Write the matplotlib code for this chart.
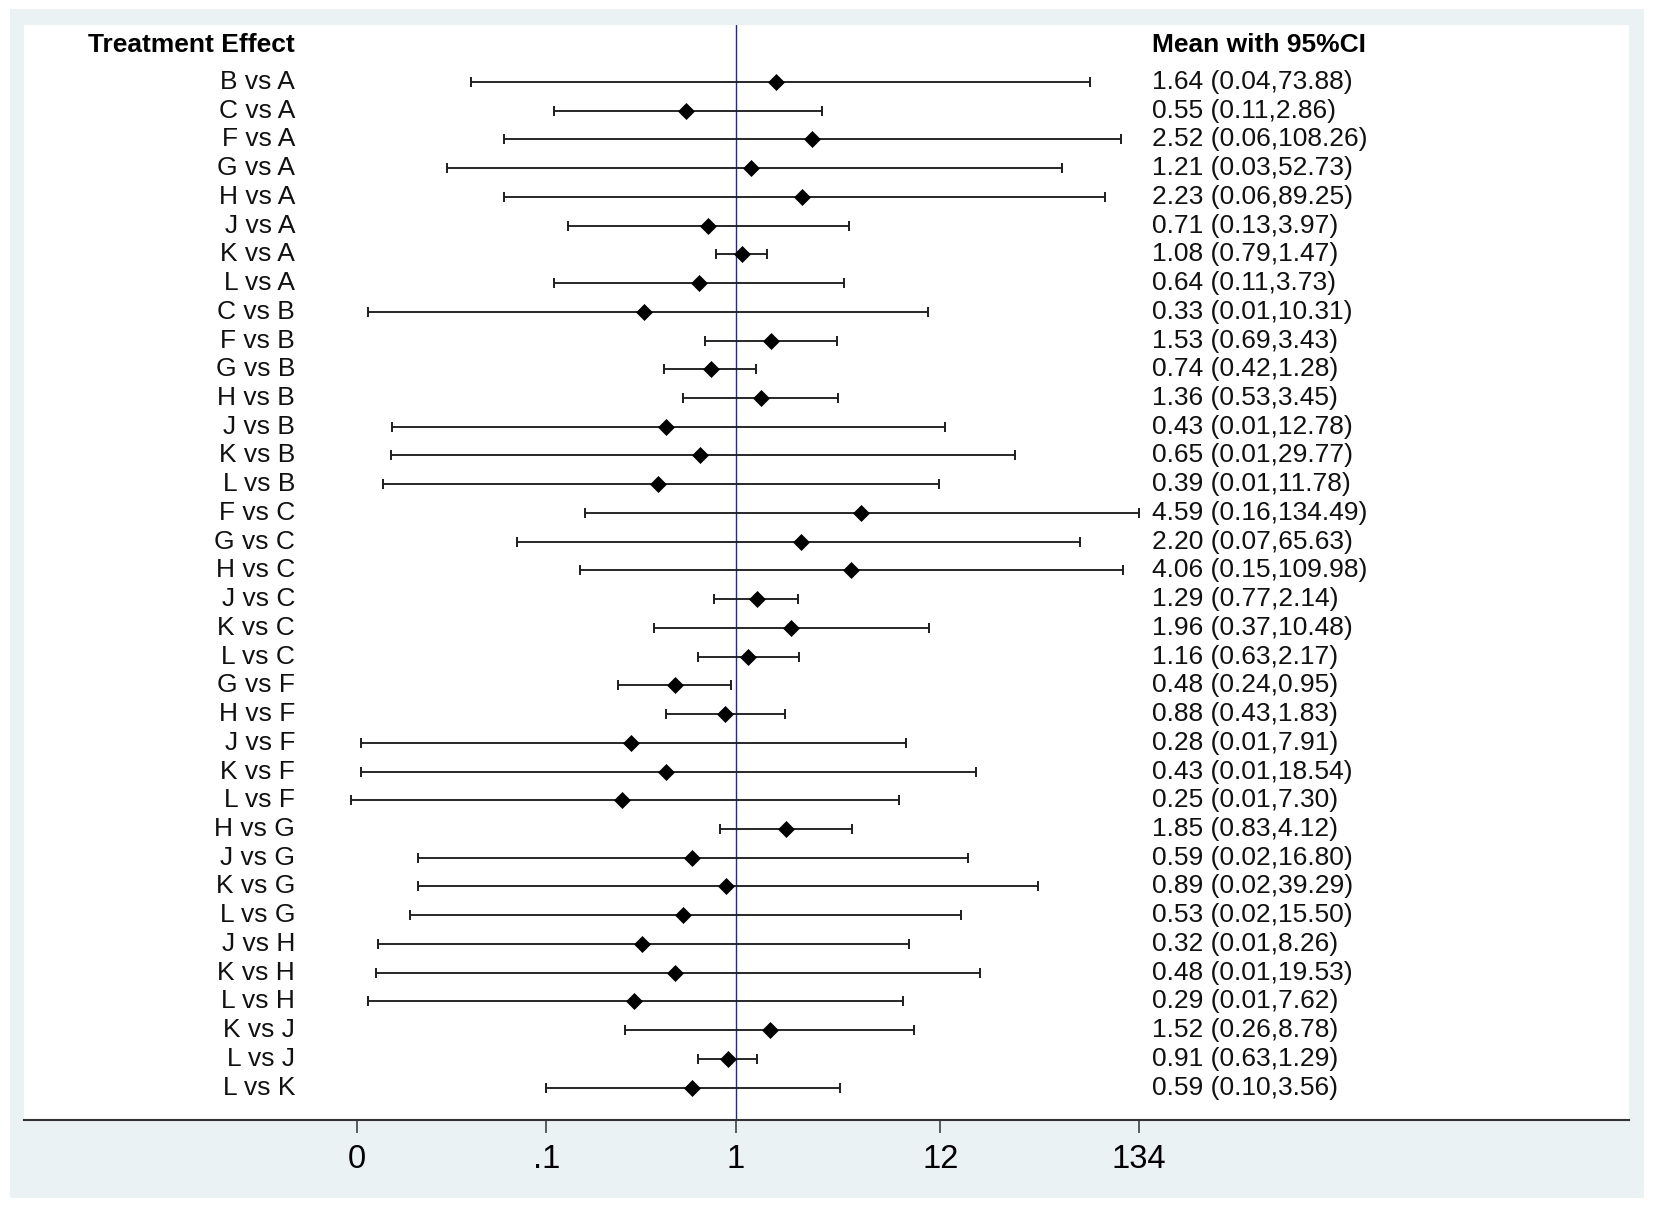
import matplotlib
matplotlib.use('Agg')
import matplotlib.pyplot as plt
import matplotlib.transforms as mtransforms
from matplotlib.ticker import NullLocator, FixedLocator, FixedFormatter
import numpy as np

plt.rcParams['font.family'] = ['Liberation Sans', 'DejaVu Sans']

# ---------------- data ----------------
comparisons = [
    "B vs A", "C vs A", "F vs A", "G vs A", "H vs A", "J vs A", "K vs A", "L vs A",
    "C vs B", "F vs B", "G vs B", "H vs B", "J vs B", "K vs B", "L vs B",
    "F vs C", "G vs C", "H vs C", "J vs C", "K vs C", "L vs C",
    "G vs F", "H vs F", "J vs F", "K vs F", "L vs F",
    "H vs G", "J vs G", "K vs G", "L vs G",
    "J vs H", "K vs H", "L vs H",
    "K vs J", "L vs J",
    "L vs K",
]
mean = [1.64, 0.55, 2.52, 1.21, 2.23, 0.71, 1.08, 0.64,
        0.33, 1.53, 0.74, 1.36, 0.43, 0.65, 0.39,
        4.59, 2.20, 4.06, 1.29, 1.96, 1.16,
        0.48, 0.88, 0.28, 0.43, 0.25,
        1.85, 0.59, 0.89, 0.53,
        0.32, 0.48, 0.29,
        1.52, 0.91,
        0.59]
lower_shown = [0.04, 0.11, 0.06, 0.03, 0.06, 0.13, 0.79, 0.11,
               0.01, 0.69, 0.42, 0.53, 0.01, 0.01, 0.01,
               0.16, 0.07, 0.15, 0.77, 0.37, 0.63,
               0.24, 0.43, 0.01, 0.01, 0.01,
               0.83, 0.02, 0.02, 0.02,
               0.01, 0.01, 0.01,
               0.26, 0.63,
               0.10]
# lower limits as drawn (unrounded values)
lower_plot = [0.04, 0.11, 0.06, 0.03, 0.06, 0.13, 0.79, 0.11,
              0.0115, 0.69, 0.42, 0.53, 0.0154, 0.0151, 0.0137,
              0.16, 0.07, 0.15, 0.77, 0.37, 0.63,
              0.24, 0.43, 0.0105, 0.0105, 0.0093,
              0.83, 0.021, 0.021, 0.019,
              0.013, 0.0127, 0.0115,
              0.26, 0.63,
              0.10]
upper = [73.88, 2.86, 108.26, 52.73, 89.25, 3.97, 1.47, 3.73,
         10.31, 3.43, 1.28, 3.45, 12.78, 29.77, 11.78,
         134.49, 65.63, 109.98, 2.14, 10.48, 2.17,
         0.95, 1.83, 7.91, 18.54, 7.30,
         4.12, 16.80, 39.29, 15.50,
         8.26, 19.53, 7.62,
         8.78, 1.29,
         3.56]
tick_values = [0.01, 0.1, 1, 12, 134]
tick_labels = ['0', '.1', '1', '12', '134']
header_left = "Treatment Effect"
header_right = "Mean with 95%CI"

# ---------------- layout ----------------
W, H = 1654, 1205
fig = plt.figure(figsize=(W / 100, H / 100), dpi=100)
fig.patch.set_facecolor('white')

bg = fig.add_axes([10 / W, 7 / H, 1634 / W, 1189 / H], zorder=-5)
bg.set_facecolor('#EAF2F3')
bg.set_xticks([])
bg.set_yticks([])
for s in bg.spines.values():
    s.set_visible(False)

ax_l, ax_r, ax_t, ax_b = 24, 1629, 25, 1120
ax = fig.add_axes([ax_l / W, (H - ax_b) / H, (ax_r - ax_l) / W, (ax_b - ax_t) / H], zorder=1)
ax.set_facecolor('white')

x_one = 735.7
decade = 189.5
ax.set_xscale('log')
ax.set_xlim(10 ** ((ax_l - x_one) / decade), 10 ** ((ax_r - x_one) / decade))

row0, drow = 82.0, 28.73
ax.set_ylim((ax_b - row0) / drow, (ax_t - row0) / drow)

n = len(comparisons)
ypos = np.arange(n)
m = np.array(mean)
lo = np.array(lower_plot)
hi = np.array(upper)

ax.axvline(1, color='#2323a8', lw=1.0, zorder=1)

ax.errorbar(m, ypos, xerr=[m - lo, hi - m], fmt='none', ecolor='#1e1e1e',
            elinewidth=1.35, capsize=3.8, capthick=1.4, zorder=2)
ax.plot(m, ypos, linestyle='none', marker='D', ms=8.3, color='black',
        markeredgewidth=0.5, zorder=3)

trans = mtransforms.blended_transform_factory(ax.transAxes, ax.transData)
xl = (295 - ax_l) / (ax_r - ax_l)
xr = (1152 - ax_l) / (ax_r - ax_l)
for i in range(n):
    ax.text(xl, i, comparisons[i], transform=trans, ha='right', va='center',
            fontsize=19, color='#111111')
    ax.text(xr, i, f"{mean[i]:.2f} ({lower_shown[i]:.2f},{upper[i]:.2f})",
            transform=trans, ha='left', va='center', fontsize=19, color='#111111')

yh = (45 - row0) / drow
ax.text(xl, yh, header_left, transform=trans, ha='right', va='center',
        fontsize=19, fontweight='bold', color='black')
ax.text(xr, yh, header_right, transform=trans, ha='left', va='center',
        fontsize=19, fontweight='bold', color='black')

for s in ['top', 'left', 'right']:
    ax.spines[s].set_visible(False)
ax.spines['bottom'].set_color('#333333')
ax.spines['bottom'].set_linewidth(1.5)

ax.xaxis.set_major_locator(FixedLocator(tick_values))
ax.xaxis.set_major_formatter(FixedFormatter(tick_labels))
ax.xaxis.set_minor_locator(NullLocator())
ax.tick_params(axis='x', which='major', length=9.4, width=1.1, color='#333333',
               labelsize=23.5, pad=8, labelcolor='black')
ax.set_yticks([])

fig.savefig('out.png', dpi=100, facecolor=fig.get_facecolor())
